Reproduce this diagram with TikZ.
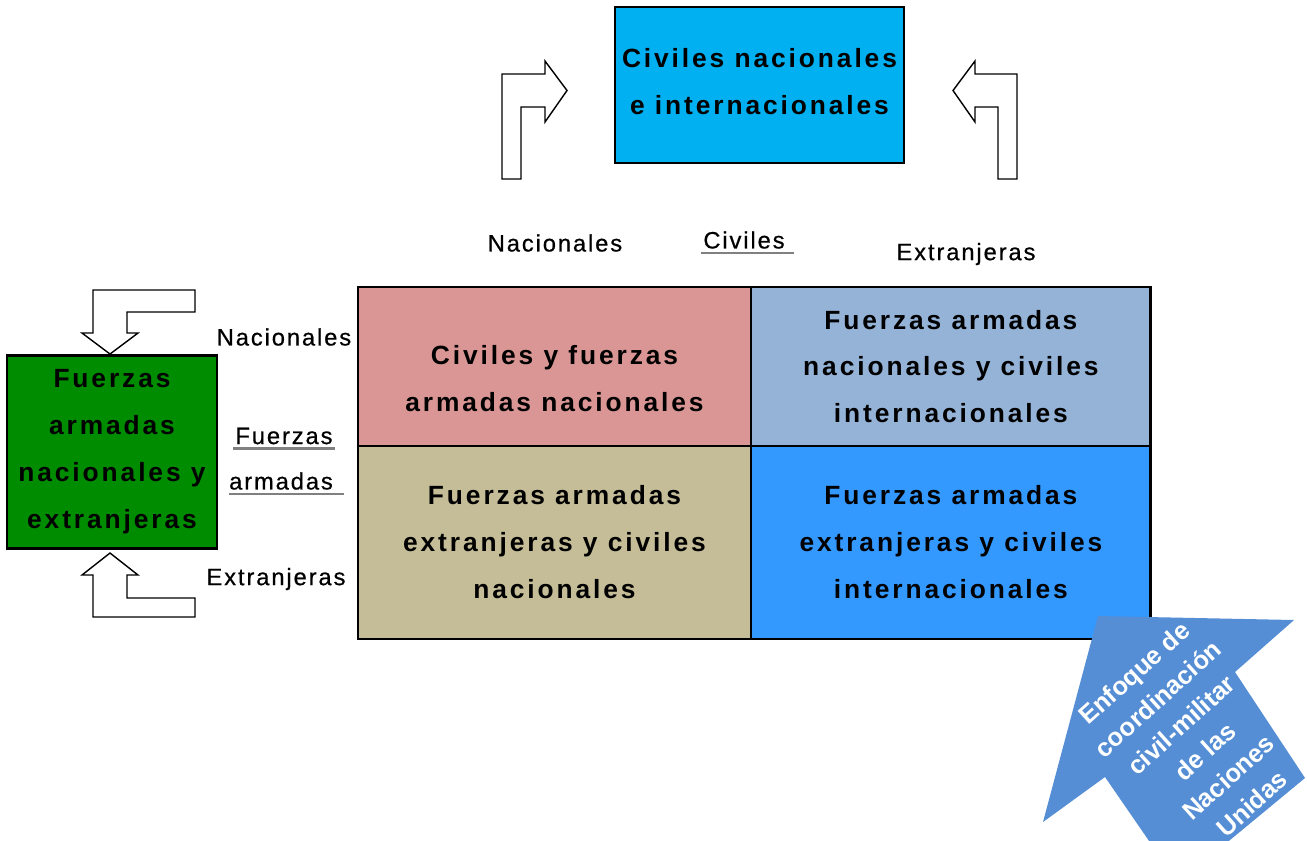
\documentclass[tikz,border=0pt]{standalone}
\usepackage{fontspec}
\setmainfont{Liberation Sans}
\newfontfamily\trackfont{Liberation Sans}[LetterSpace=11]
\newfontfamily\sidefont{Liberation Sans}[LetterSpace=8, FakeBold=0.6]
\usepackage{tikz}
\usetikzlibrary{positioning}
\usepackage{xcolor}

\definecolor{civcyan}{RGB}{0,176,240}
\definecolor{armygreen}{RGB}{0,140,0}
\definecolor{cellrose}{RGB}{217,150,148}
\definecolor{cellsky}{RGB}{149,179,215}
\definecolor{cellkhaki}{RGB}{196,189,151}
\definecolor{cellblue}{RGB}{51,153,255}
\definecolor{unblue}{RGB}{85,142,213}

\begin{document}
\begin{tikzpicture}[
    x=0.02cm, y=-0.02cm,
    box/.style={
        draw=black,
        line width=1.6pt,
        align=center,
        inner sep=0pt,
        outer sep=0pt,
        font=\trackfont\bfseries\fontsize{15}{26.7}\selectfont
    },
    cellL/.style={box, minimum width=7.86cm},
    cellR/.style={box, minimum width=8cm},
    sidetext/.style={
        inner sep=0pt,
        font=\sidefont\fontsize{13.5}{15}\selectfont
    },
    ulrule/.style={draw=black!50, line width=1.2pt},
    bent/.style={
        draw=black,
        fill=white,
        line width=0.8pt,
        line join=miter
    },
    bigarrow/.style={fill=unblue, draw=none}
]
\useasboundingbox (0,0) rectangle (1307,840);

% Nodes
\node (civ) [box, fill=civcyan, minimum width=5.78cm, minimum height=3.12cm] at (759.5,85) {Civiles nacionales\\e internacionales\rule[-4pt]{0pt}{0pt}};
\node (fa) [box, fill=armygreen, minimum width=4.2cm, minimum height=3.86cm] at (112,452) {Fuerzas\\armadas\\nacionales y\\extranjeras};

\node (tl) [cellL, fill=cellrose, minimum height=3.18cm] at (554.5,366.5) {\rule{0pt}{25pt}Civiles y fuerzas\\armadas nacionales};
\node (tr) [cellR, fill=cellsky, minimum height=3.18cm, right=0pt of tl] {Fuerzas armadas\\nacionales y civiles\\internacionales};
\node (bl) [cellL, fill=cellkhaki, minimum height=3.86cm, below=0pt of tl] {Fuerzas armadas\\extranjeras y civiles\\nacionales};
\node (br) [cellR, fill=cellblue, minimum height=3.86cm, below=0pt of tr] {Fuerzas armadas\\extranjeras y civiles\\internacionales};

\node (topnac) [sidetext] at (555,243) {Nacionales};
\node (topciv) [sidetext] at (744,240) {Civiles};
\node (topext) [sidetext] at (966,254) {Extranjeras};
\node (leftnac) [sidetext] at (284,337) {Nacionales};
\node (leftfue) [sidetext] at (284,436) {Fuerzas};
\node (leftarm) [sidetext] at (281,481) {armadas};
\node (leftext) [sidetext] at (276,579) {Extranjeras};

% Underlines
\draw [ulrule] ([xshift=-1pt, yshift=-2.5pt]topciv.base west) -- ([xshift=5pt, yshift=-2.5pt]topciv.base east);
\draw [ulrule] ([xshift=-1pt, yshift=-2.5pt]leftfue.base west) -- ([xshift=1pt, yshift=-2.5pt]leftfue.base east);
\draw [ulrule] ([yshift=-2.5pt]leftarm.base west) -- ([xshift=6pt, yshift=-2.5pt]leftarm.base east);

% Bent arrows
\draw [bent] (502,179) -- (502,74) -- (545,74) -- (545,61) -- (567,90.5) -- (545,122) -- (545,107) -- (521,107) -- (521,179) -- cycle;
\draw [bent] (1017,179) -- (1017,74) -- (975,74) -- (975,61) -- (953,90.5) -- (975,122) -- (975,107) -- (998,107) -- (998,179) -- cycle;
\draw [bent] (93,290) -- (195,290) -- (195,312) -- (127,312) -- (127,333) -- (138,333) -- (110,354) -- (82,333) -- (93,333) -- cycle;
\draw [bent] (110,553) -- (138,575) -- (127,575) -- (127,598) -- (195,598) -- (195,617) -- (93,617) -- (93,575) -- (82,575) -- cycle;

% UN arrow
\begin{scope}
\clip (0,0) rectangle (1307,840);
\fill [bigarrow] (1098,616) -- (1294,620) -- (1235,672) -- (1305,778) -- (1178,883) -- (1105,777) -- (1043,822) -- cycle;
\node (un) [text=white, align=center, inner sep=0pt, rotate=42,
    font=\bfseries\fontsize{14.5}{20}\selectfont] at (1193,738)
    {Enfoque de\\coordinación\\civil-militar\\de las\\Naciones\\Unidas};
\end{scope}

\end{tikzpicture}
\end{document}
